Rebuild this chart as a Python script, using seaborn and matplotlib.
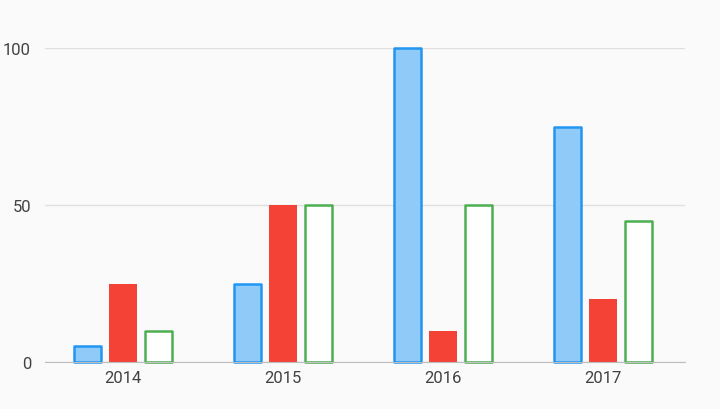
import pandas as pd
import matplotlib
matplotlib.use("Agg")
import matplotlib.pyplot as plt
import seaborn as sns

years = ["2014", "2015", "2016", "2017"]
series_a = [5, 25, 100, 75]
series_b = [25, 50, 10, 20]
series_c = [10, 50, 50, 45]

data = pd.DataFrame({
    "year": years * 3,
    "value": series_a + series_b + series_c,
    "series": ["A"] * 4 + ["B"] * 4 + ["C"] * 4,
})

sns.set_style("white")
plt.rcParams["font.family"] = ["Roboto", "DejaVu Sans"]

fig = plt.figure(figsize=(7.2, 4.1), dpi=100, facecolor="#fafafa")
ax = fig.add_axes([45 / 720, 1 - 363 / 410, 640 / 720, 314 / 410])
ax.set_facecolor("#fafafa")

sns.barplot(data=data, x="year", y="value", hue="series", width=0.66,
            ax=ax, legend=False, errorbar=None)

faces = {"A": "#90CAF9", "B": "#F44336", "C": "white"}
edges = {"A": "#2196F3", "B": "#F44336", "C": "#4CAF50"}
keys = ["A", "B", "C"]
for i, cont in enumerate(ax.containers):
    k = keys[i]
    for p in cont.patches:
        cx = p.get_x() + p.get_width() / 2
        p.set_width(0.17)
        p.set_x(cx - 0.085)
        p.set_facecolor(faces[k])
        p.set_edgecolor(edges[k])
        p.set_linewidth(0 if k == "B" else 1.8)
        p.set_joinstyle("round")
        p.set_clip_on(False)

ax.set_xlim(-0.4875, 3.5125)
ax.set_ylim(0, 100)
ax.set_yticks([0, 50, 100])
ax.yaxis.grid(True, color="#e0e0e0", linewidth=1)
ax.set_axisbelow(True)
ax.set_xlabel("")
ax.set_ylabel("")
for s in ["left", "right", "top"]:
    ax.spines[s].set_visible(False)
ax.spines["bottom"].set_color("#bdbdbd")
ax.tick_params(axis="both", length=0, labelsize=12, labelcolor="#424242")
ax.tick_params(axis="y", pad=10)
ax.tick_params(axis="x", pad=6)

fig.savefig("out.png", dpi=100, facecolor=fig.get_facecolor())
